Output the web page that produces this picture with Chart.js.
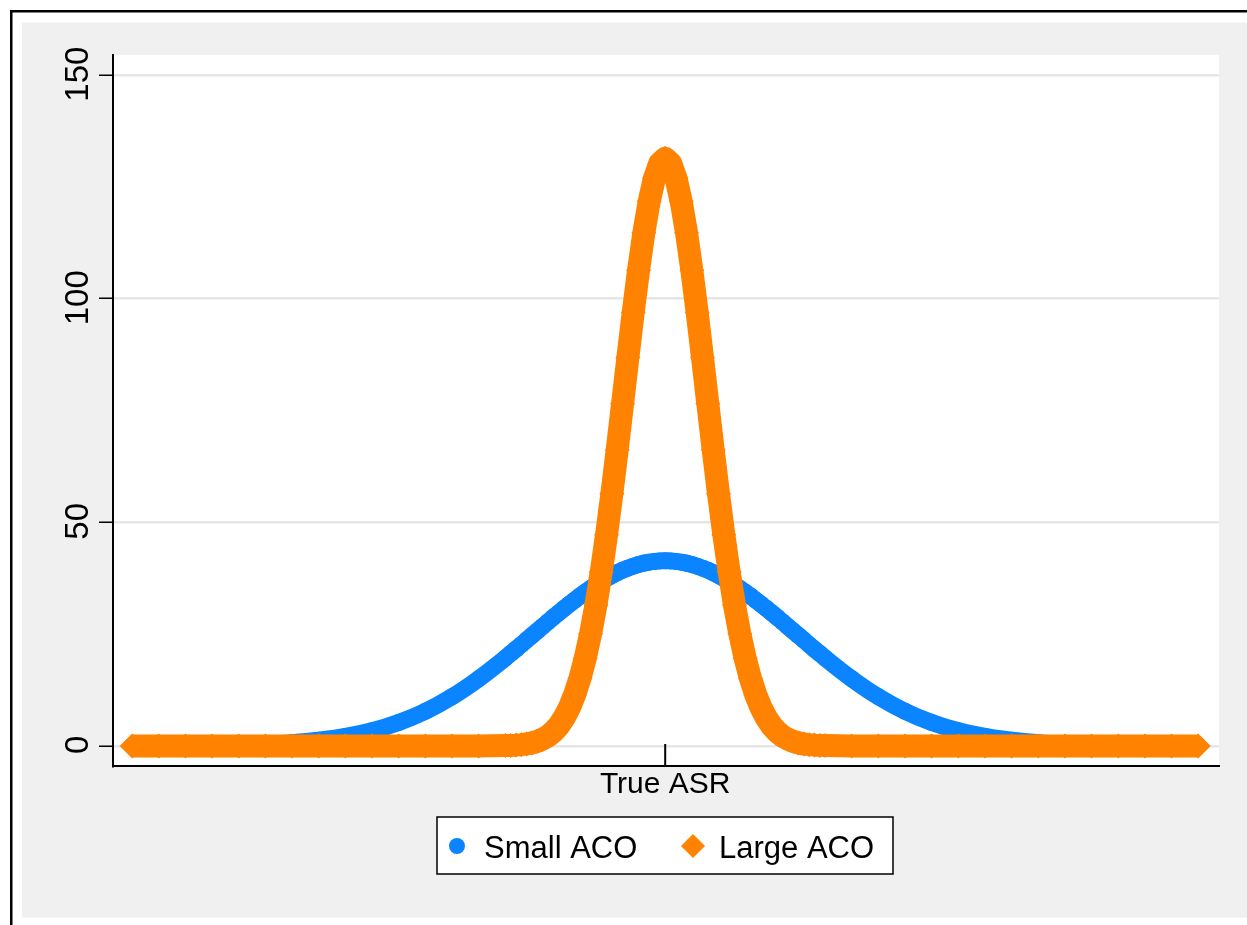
<!DOCTYPE html>
<html>
<head>
<meta charset="utf-8">
<script src="https://cdn.jsdelivr.net/npm/chart.js@4/dist/chart.umd.min.js"></script>
<style>
  html, body { margin: 0; padding: 0; background: #fff; }
</style>
</head>
<body>
<canvas id="grafica" width="1247" height="925"></canvas>
<script>
// x positions (True ASR, centred on 0) shared by both curves
const asrGrid = [
  -1.00, -0.95, -0.90, -0.85, -0.80, -0.75, -0.70, -0.65, -0.60, -0.55, -0.50, -0.45, -0.40, -0.35,
  -0.30, -0.29, -0.28, -0.27, -0.26, -0.25, -0.24, -0.23, -0.22, -0.21, -0.20, -0.19, -0.18, -0.17, -0.16,
  -0.15, -0.14, -0.13, -0.12, -0.11, -0.10, -0.09, -0.08, -0.07, -0.06, -0.05, -0.04, -0.03, -0.02, -0.01,
  0,
  0.01, 0.02, 0.03, 0.04, 0.05, 0.06, 0.07, 0.08, 0.09, 0.10, 0.11, 0.12, 0.13, 0.14, 0.15,
  0.16, 0.17, 0.18, 0.19, 0.20, 0.21, 0.22, 0.23, 0.24, 0.25, 0.26, 0.27, 0.28, 0.29, 0.30,
  0.35, 0.40, 0.45, 0.50, 0.55, 0.60, 0.65, 0.70, 0.75, 0.80, 0.85, 0.90, 0.95, 1.00
];

const smallAco = [
  0.01, 0.02, 0.05, 0.10, 0.21, 0.39, 0.72, 1.26, 2.11, 3.39, 5.23, 7.73, 10.99, 15.01,
  19.65, 20.64, 21.63, 22.64, 23.66, 24.68, 25.70, 26.72, 27.73, 28.74, 29.73, 30.70, 31.66, 32.59, 33.49,
  34.37, 35.20, 36.00, 36.75, 37.46, 38.11, 38.72, 39.26, 39.75, 40.18, 40.55, 40.86, 41.09, 41.26, 41.37,
  41.40,
  41.37, 41.26, 41.09, 40.86, 40.55, 40.18, 39.75, 39.26, 38.72, 38.11, 37.46, 36.75, 36.00, 35.20, 34.37,
  33.49, 32.59, 31.66, 30.70, 29.73, 28.74, 27.73, 26.72, 25.70, 24.68, 23.66, 22.64, 21.63, 20.64, 19.65,
  15.01, 10.99, 7.73, 5.23, 3.39, 2.11, 1.26, 0.72, 0.39, 0.21, 0.10, 0.05, 0.02, 0.01
];

const largeAco = [
  0, 0, 0, 0, 0, 0, 0, 0, 0, 0, 0, 0, 0, 0,
  0.07, 0.11, 0.17, 0.28, 0.43, 0.67, 1.01, 1.50, 2.19, 3.16, 4.47, 6.21, 8.49, 11.41, 15.08,
  19.60, 25.05, 31.48, 38.89, 47.24, 56.41, 66.25, 76.49, 86.83, 96.92, 106.36, 114.77, 121.77, 127.03, 130.29,
  131.40,
  130.29, 127.03, 121.77, 114.77, 106.36, 96.92, 86.83, 76.49, 66.25, 56.41, 47.24, 38.89, 31.48, 25.05, 19.60,
  15.08, 11.41, 8.49, 6.21, 4.47, 3.16, 2.19, 1.50, 1.01, 0.67, 0.43, 0.28, 0.17, 0.11, 0.07,
  0, 0, 0, 0, 0, 0, 0, 0, 0, 0, 0, 0, 0, 0
];

const yTicks = [0, 50, 100, 150];
const xTickLabel = "True ASR";
const seriesLabels = ["Small ACO", "Large ACO"];
const seriesColors = ["#0a84ff", "#ff8200"];

const FONT = '"Liberation Sans", Arial, sans-serif';

// gray graph region, outer frame, white plot region
const fondo = {
  id: "fondo",
  beforeDraw(chart) {
    const ctx = chart.ctx;
    const a = chart.chartArea;
    ctx.save();
    ctx.fillStyle = "#fff";
    ctx.fillRect(0, 0, chart.width, chart.height);
    ctx.fillStyle = "#000";
    ctx.fillRect(10, 10, chart.width - 10, 2.5);
    ctx.fillRect(10, 10, 2.5, chart.height - 10);
    ctx.fillStyle = "#f0f0f0";
    ctx.fillRect(22, 22.5, chart.width - 22, 895);
    ctx.fillStyle = "#fff";
    ctx.fillRect(a.left, a.top, a.right - a.left, a.bottom - a.top);
    ctx.restore();
  }
};

// rotated y labels, inward x tick and boxed legend
const extras = {
  id: "extras",
  afterDraw(chart) {
    const ctx = chart.ctx;
    const a = chart.chartArea;
    const ys = chart.scales.y;
    const xs = chart.scales.x;
    ctx.save();

    ctx.fillStyle = "#000";
    ctx.font = "33px " + FONT;
    ctx.textAlign = "center";
    ctx.textBaseline = "alphabetic";
    ys.ticks.forEach(t => {
      ctx.save();
      ctx.translate(a.left - 25, ys.getPixelForValue(t.value) - 1);
      ctx.rotate(-Math.PI / 2);
      ctx.fillText(String(t.value), 0, 0);
      ctx.restore();
    });

    const px = xs.getPixelForValue(0);
    ctx.strokeStyle = "#000";
    ctx.lineWidth = 2;
    ctx.beginPath();
    ctx.moveTo(px, a.bottom);
    ctx.lineTo(px, a.bottom - 22);
    ctx.stroke();

    // legend
    ctx.fillStyle = "#fff";
    ctx.fillRect(437, 817, 456, 57);
    ctx.lineWidth = 1.5;
    ctx.strokeRect(437, 817, 456, 57);
    ctx.font = "31px " + FONT;
    ctx.textAlign = "left";
    ctx.fillStyle = seriesColors[0];
    ctx.beginPath();
    ctx.arc(457, 846, 8, 0, Math.PI * 2);
    ctx.fill();
    ctx.fillStyle = seriesColors[1];
    ctx.beginPath();
    ctx.moveTo(693 - 12, 846);
    ctx.lineTo(693, 846 - 12);
    ctx.lineTo(693 + 12, 846);
    ctx.lineTo(693, 846 + 12);
    ctx.closePath();
    ctx.fill();
    ctx.fillStyle = "#000";
    ctx.fillText(seriesLabels[0], 484, 858);
    ctx.fillText(seriesLabels[1], 719, 858);
    ctx.restore();
  }
};

const ctx = document.getElementById("grafica").getContext("2d");
new Chart(ctx, {
  type: "line",
  data: {
    datasets: [
      {
        label: seriesLabels[0],
        data: asrGrid.map((x, i) => ({ x: x, y: smallAco[i] })),
        borderColor: seriesColors[0],
        backgroundColor: seriesColors[0],
        borderWidth: 17,
        borderJoinStyle: "round",
        pointStyle: "circle",
        pointRadius: 8.5,
        pointBorderWidth: 0,
        cubicInterpolationMode: "monotone",
        order: 1
      },
      {
        label: seriesLabels[1],
        data: asrGrid.map((x, i) => ({ x: x, y: largeAco[i] })),
        borderColor: seriesColors[1],
        backgroundColor: seriesColors[1],
        borderWidth: 23,
        borderJoinStyle: "round",
        pointStyle: "rectRot",
        pointRadius: 12.5,
        pointBorderWidth: 0,
        order: 0
      }
    ]
  },
  options: {
    responsive: false,
    animation: false,
    devicePixelRatio: 1,
    layout: { padding: { left: 0, right: 28, top: 55, bottom: 0 } },
    plugins: { legend: { display: false }, tooltip: { enabled: false } },
    scales: {
      x: {
        type: "linear",
        min: -1.036,
        max: 1.039,
        grid: { display: false },
        border: { color: "#000", width: 2 },
        ticks: {
          color: "#000",
          font: { family: FONT, size: 30 },
          padding: -7,
          maxRotation: 0,
          callback: v => (v === 0 ? xTickLabel : "")
        },
        afterBuildTicks: s => { s.ticks = [{ value: 0 }]; },
        afterFit: s => { s.height = 159; }
      },
      y: {
        type: "linear",
        min: -4.5,
        max: 154.5,
        grid: { color: "#e6e6e6", lineWidth: 2.5, tickColor: "#000", tickWidth: 1.5, tickLength: 14 },
        border: { color: "#000", width: 2 },
        ticks: { display: false },
        afterBuildTicks: s => { s.ticks = yTicks.map(v => ({ value: v })); },
        afterFit: s => { s.width = 113; }
      }
    }
  },
  plugins: [fondo, extras]
});
</script>
</body>
</html>
